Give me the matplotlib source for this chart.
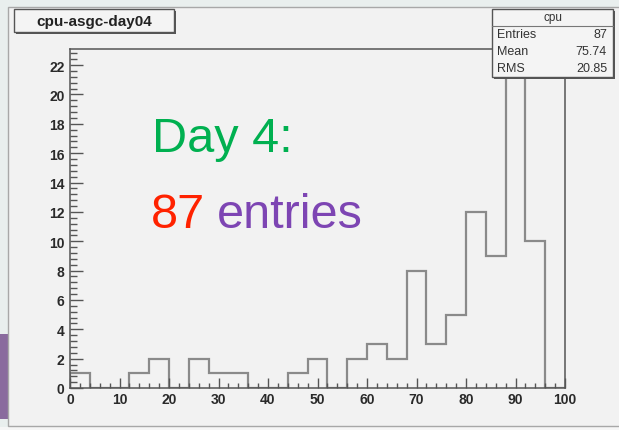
import numpy as np
import matplotlib
matplotlib.use("Agg")
import matplotlib.pyplot as plt
from matplotlib.patches import Rectangle
from matplotlib.ticker import MultipleLocator

# Histogram of CPU usage (25 bins from 0 to 100)
bin_edges = np.linspace(0, 100, 26)
counts = [1, 0, 0, 1, 2, 0, 2, 1, 1, 0, 0, 1, 2, 0, 2, 3, 2, 8, 3, 5, 12, 9, 22, 10, 0]
hist_name = "cpu-asgc-day04"
stat_title = "cpu"
stat_labels = ["Entries", "Mean", "RMS"]
stat_values = ["87", "75.74", "20.85"]
x_ticks = list(range(0, 101, 10))
y_ticks = list(range(0, 23, 2))

W, H = 619, 431
fig = plt.figure(figsize=(W / 100, H / 100), dpi=100)
fig.patch.set_facecolor("#e9efee")


def pixel_axes(zorder):
    a = fig.add_axes([0, 0, 1, 1], zorder=zorder)
    a.set_xlim(0, W)
    a.set_ylim(H, 0)
    a.axis("off")
    a.patch.set_alpha(0)
    return a


# background layer in pixel coordinates
bg = pixel_axes(0)
bg.add_patch(Rectangle((0, 428), W, 3, facecolor="#f6f6f6", edgecolor="none"))
bg.add_patch(Rectangle((0, 335), 8, 85, facecolor="#8a6b9e", edgecolor="none"))
bg.add_patch(Rectangle((8, 8), W, 419, facecolor="#f2f2f2", edgecolor="#a8a8a8", lw=1.0))

# histogram frame
left, right, top, bottom = 70, 565, 50, 389
ax = fig.add_axes([left / W, (H - bottom) / H, (right - left) / W, (bottom - top) / H], zorder=1)
ax.patch.set_alpha(0)
ax.stairs(counts, bin_edges, baseline=0, color="#8a8a8a", lw=1.6)
ax.set_xlim(0, 100)
ax.set_ylim(0, 1.05 * max(counts))
for s in ax.spines.values():
    s.set_color("#555555")
    s.set_linewidth(1.1)
ax.set_xticks(x_ticks)
ax.set_yticks(y_ticks)
ax.xaxis.set_minor_locator(MultipleLocator(2))
ax.yaxis.set_minor_locator(MultipleLocator(0.4))
ax.tick_params(axis="x", which="major", direction="in", length=7.2, width=1, color="#555555",
               pad=3, labelsize=10, labelcolor="#2a2a2a")
ax.tick_params(axis="x", which="minor", direction="in", length=3.6, width=1, color="#555555")
ax.tick_params(axis="y", which="major", direction="in", length=9.4, width=1, color="#555555",
               pad=4, labelsize=10, labelcolor="#2a2a2a")
ax.tick_params(axis="y", which="minor", direction="in", length=4.7, width=1, color="#555555")
for lbl in ax.get_xticklabels() + ax.get_yticklabels():
    lbl.set_fontweight("bold")
    lbl.set_family("Liberation Sans")

# overlay layer: title box, statistics box, annotation
fg = pixel_axes(2)

fg.add_patch(Rectangle((16, 12), 160, 23, facecolor="#555555", edgecolor="none"))
fg.add_patch(Rectangle((14, 10), 160, 23, facecolor="#f4f4f4", edgecolor="#555555", lw=1.0))
fg.text(94, 22, hist_name, ha="center", va="center", fontsize=11, fontweight="bold",
        family="Liberation Sans", color="#222222")

bx0, by0, bw, bh = 492, 10, 121, 68
fg.add_patch(Rectangle((bx0 + 2, by0 + 2), bw, bh, facecolor="#555555", edgecolor="none"))
fg.add_patch(Rectangle((bx0, by0), bw, bh, facecolor="#f4f4f4", edgecolor="#555555", lw=1.0))
fg.plot([bx0, bx0 + bw], [27, 27], color="#777777", lw=0.8)
fg.text(bx0 + bw / 2, 18, stat_title, ha="center", va="center", fontsize=8.5,
        family="Liberation Sans", color="#333333")
for i, (lab, val) in enumerate(zip(stat_labels, stat_values)):
    y = 35 + i * 17
    fg.text(bx0 + 5, y, lab, ha="left", va="center", fontsize=9,
            family="Liberation Sans", color="#333333")
    fg.text(bx0 + bw - 6, y, val, ha="right", va="center", fontsize=9,
            family="Liberation Sans", color="#333333")

big = dict(fontsize=35, family="Liberation Sans", va="baseline", ha="left")
fg.text(152, 152, "Day 4:", color="#00b050", **big)
fg.text(151, 228, "87", color="#ff2200", **big)
fg.text(217, 228, "entries", color="#7d45b3", **big)

fig.savefig("out.png", dpi=100, facecolor=fig.get_facecolor())
